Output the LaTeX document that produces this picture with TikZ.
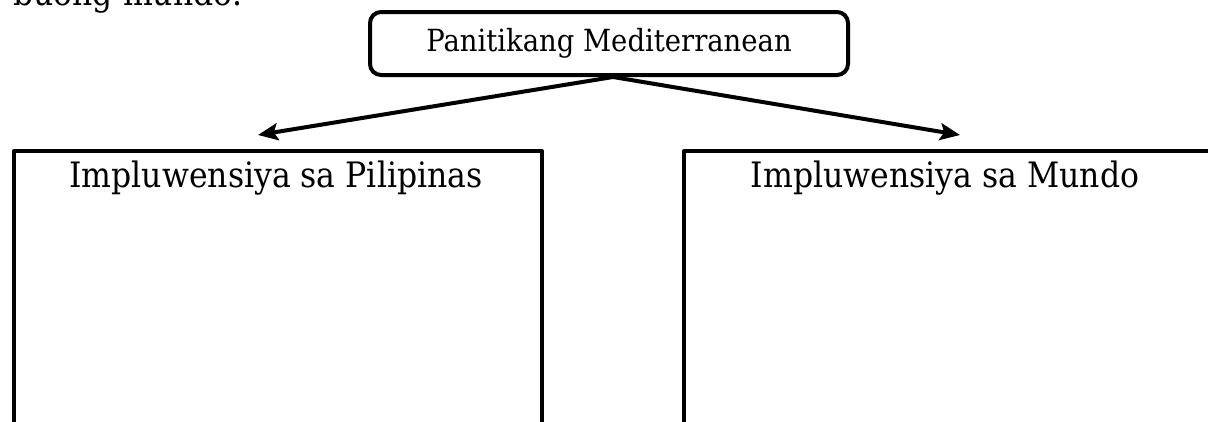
\documentclass[tikz,border=0pt]{standalone}
\usepackage{fontspec}
\setmainfont{DejaVu Serif}[FakeStretch=0.9]
\usetikzlibrary{arrows.meta}
\begin{document}
\begin{tikzpicture}[x=1pt,y=-1pt,line join=round,
  titlebox/.style={draw,rounded corners=11pt,line width=4pt,minimum width=478pt,minimum height=63pt,inner sep=0pt,font=\fontsize{30.5}{36}\selectfont},
  openbox/.style={draw,line width=4pt,minimum width=528pt,minimum height=320pt,inner sep=0pt,anchor=north west},
  boxlabel/.style={inner sep=0pt,anchor=base,font=\fontsize{35}{40}\selectfont},
  arrow/.style={line width=4pt,-{Stealth[length=20pt,width=17pt,inset=4pt]}}]
\useasboundingbox (0,0) rectangle (1208,421);
\clip (0,0) rectangle (1208,421);
\node[anchor=base west,inner sep=0pt,font=\fontsize{35}{40}\selectfont] (intro) at (13,5) {buong mundo.};
\node[titlebox] (top) at (609,43.5) {Panitikang Mediterranean};
\node[openbox] (lbox) at (12,149) {};
\node[openbox] (rbox) at (682,149) {};
\node[boxlabel] (ltitle) at (276,187) {Impluwensiya sa Pilipinas};
\node[boxlabel] (rtitle) at (945,187) {Impluwensiya sa Mundo};
\coordinate (ltip) at (258,135);
\coordinate (rtip) at (960,135);
\draw[arrow] ([xshift=4pt]top.south) -- (ltip);
\draw[arrow] ([xshift=4pt]top.south) -- (rtip);
\end{tikzpicture}
\end{document}
